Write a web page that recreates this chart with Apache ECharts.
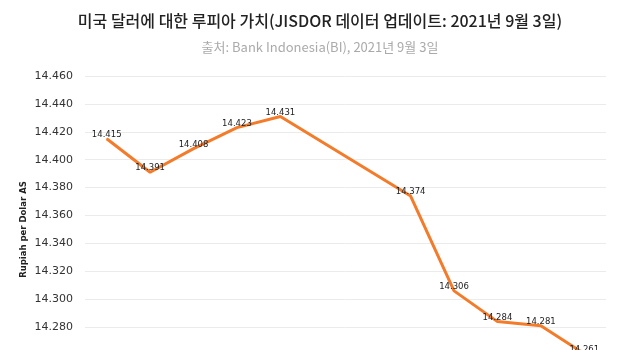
<!DOCTYPE html>
<html><head><meta charset="utf-8">
<script src="https://cdn.jsdelivr.net/npm/echarts@6/dist/echarts.min.js"></script>
<style>html,body{margin:0;padding:0;background:#fff;overflow:hidden;width:640px;height:350px}#c{width:640px;height:420px}</style>
</head><body><div id="c"></div>
<script>
var categories = ['2021-08-23','2021-08-24','2021-08-25','2021-08-26','2021-08-27','2021-08-28','2021-08-29','2021-08-30','2021-08-31','2021-09-01','2021-09-02','2021-09-03'];
var values = [14415, 14391, 14408, 14423, 14431, null, null, 14374, 14306, 14284, 14281, 14261];
var titleText = '미국 달러에 대한 루피아 가치(JISDOR 데이터 업데이트: 2021년 9월 3일)';
var subText = '출처: Bank Indonesia(BI), 2021년 9월 3일';
var yName = 'Rupiah per Dolar AS';

function fmt(v){ var s = String(Math.round(v)); return s.slice(0, s.length-3) + '.' + s.slice(-3); }

var chart = echarts.init(document.getElementById('c'));
chart.setOption({
  animation: false,
  title: {
    text: titleText, subtext: subText, left: 'center', top: 8, itemGap: 12,
    textStyle: {fontFamily: 'Noto Sans CJK KR', fontSize: 16, fontWeight: 500, color: '#222'},
    subtextStyle: {fontFamily: 'Noto Sans CJK KR', fontSize: 13, color: '#aaa'}
  },
  grid: {left: 85, right: 34, top: 76, bottom: 37, containLabel: false},
  xAxis: {
    type: 'category', data: categories, boundaryGap: true,
    axisLine: {show: false}, axisTick: {show: false}, axisLabel: {show: false}
  },
  yAxis: {
    type: 'value', min: 14240, max: 14460, interval: 20,
    name: yName, nameLocation: 'middle', nameGap: 57, nameMoveOverlap: false,
    nameTextStyle: {fontFamily: 'DejaVu Sans', fontSize: 8.5, fontWeight: 'bold', color: '#222'},
    axisLine: {show: false}, axisTick: {show: false},
    axisLabel: {formatter: fmt, fontFamily: 'DejaVu Sans', fontSize: 11, color: '#333', margin: 12},
    splitLine: {lineStyle: {color: '#ebebeb', width: 1}}
  },
  series: [{
    type: 'line', data: values, connectNulls: true,
    symbol: 'circle', symbolSize: 1, showSymbol: true,
    lineStyle: {color: '#F47B2A', width: 3},
    itemStyle: {color: '#F47B2A'},
    label: {show: true, position: 'top', distance: -1, formatter: function(p){ return fmt(p.value); },
      fontFamily: 'DejaVu Sans', fontSize: 8.5, color: '#222'}
  }]
});
</script></body></html>
